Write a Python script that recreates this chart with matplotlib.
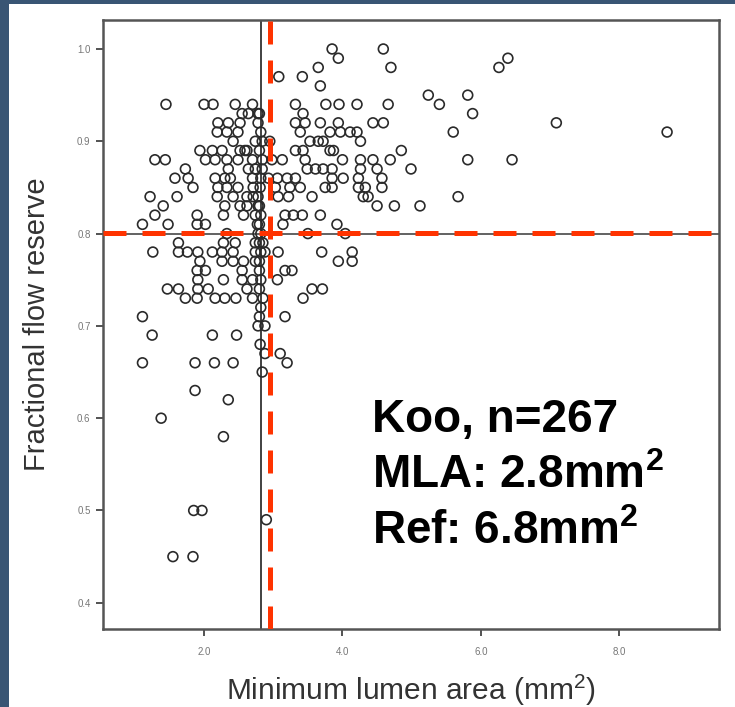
import matplotlib
matplotlib.use("Agg")
import matplotlib.pyplot as plt
from matplotlib.patches import Rectangle

plt.rcParams['font.family'] = ['Liberation Sans', 'DejaVu Sans']
plt.rcParams['mathtext.fontset'] = 'custom'
plt.rcParams['mathtext.rm'] = 'Liberation Sans'
plt.rcParams['mathtext.bf'] = 'Liberation Sans:bold'

# Minimum lumen area (mm^2) and FFR
mla = [
    3.85, 3.94, 4.59, 4.70, 3.65, 3.08, 3.42, 3.68, 5.24, 5.40, 5.81, 5.88, 5.60, 5.81, 5.67,
    6.26, 6.39, 7.09, 8.69, 6.45, 5.12, 4.75, 4.50,
    1.45, 2.00, 2.13, 2.45, 2.70, 3.32, 3.76, 3.95, 4.21, 4.66,
    2.55, 2.64, 2.78, 3.43,
    2.20, 2.35, 2.52, 2.78, 3.32, 3.46, 3.68, 3.94, 4.44, 4.59,
    2.19, 2.33, 2.49, 3.39, 3.82, 3.97, 4.11, 4.21,
    2.42, 2.74, 2.84, 2.95, 3.53, 3.65, 3.72, 4.26,
    1.94, 2.12, 2.26, 2.52, 2.59, 2.62, 3.32, 3.43, 3.82, 3.87, 4.85,
    1.29, 1.44, 2.02, 2.16, 2.33, 2.49, 2.70, 2.84, 2.98, 3.13, 3.46, 4.00, 4.26, 4.44, 4.69,
    1.73, 2.35, 2.64, 2.74, 2.84, 3.49, 3.61, 3.72, 3.85, 4.26, 4.50, 4.99,
    1.58, 1.77, 2.16, 2.30, 2.38, 2.70, 2.93, 3.06, 3.20, 3.32, 3.85, 4.01, 4.23, 4.57,
    1.84, 2.20, 2.33, 2.49, 2.71, 2.81, 3.03, 3.24, 3.39, 3.75, 3.85, 4.23, 4.33, 4.57,
    1.22, 1.61, 2.19, 2.42, 2.62, 2.71, 2.78, 3.07, 3.22, 3.56, 4.30, 4.37,
    1.41, 2.30, 2.52, 2.62, 2.78,
    1.29, 1.90, 2.28, 2.57, 2.74, 3.17, 3.29, 3.42, 3.68,
    1.11, 1.48, 1.90, 2.02, 2.77, 3.14, 3.92,
    2.33, 3.50, 4.04,
    1.63, 2.28, 2.45, 2.74, 2.85,
    1.26, 1.63, 1.76, 1.91, 2.12, 2.26, 2.42, 2.74, 2.88, 3.07, 3.70, 4.14,
    1.94, 2.26, 2.42, 2.57, 2.74, 3.94, 4.14,
    1.90, 2.02, 2.55, 3.17, 3.27,
    1.91, 2.28, 2.55, 2.70, 3.06,
    1.47, 1.63, 1.91, 2.06, 2.62, 3.56, 3.71,
    1.73, 1.90, 2.16, 2.30, 2.46, 2.70, 2.85, 3.43,
    1.11, 3.17,
    2.78, 2.88,
    1.25, 2.12, 2.47,
    2.81,
    2.88, 3.10,
    1.11, 1.87, 2.15, 2.42, 3.20,
    2.84, 1.87, 2.35, 1.38, 2.28,
    1.85, 1.97, 2.90, 1.55, 1.84,
    2.80, 2.82, 2.80, 2.82, 2.80, 2.82, 2.80, 2.82, 2.78, 2.80, 2.82, 2.80, 2.80, 2.82, 2.80, 2.82, 2.80,
]
ffr = [
    1.00, 0.99, 1.00, 0.98, 0.98, 0.97, 0.97, 0.96, 0.95, 0.94, 0.95, 0.93, 0.91, 0.88, 0.84,
    0.98, 0.99, 0.92, 0.91, 0.88, 0.83, 0.83, 0.83,
    0.94, 0.94, 0.94, 0.94, 0.94, 0.94, 0.94, 0.94, 0.94, 0.94,
    0.93, 0.93, 0.93, 0.93,
    0.92, 0.92, 0.92, 0.92, 0.92, 0.92, 0.92, 0.92, 0.92, 0.92,
    0.91, 0.91, 0.91, 0.91, 0.91, 0.91, 0.91, 0.91,
    0.90, 0.90, 0.90, 0.90, 0.90, 0.90, 0.90, 0.90,
    0.89, 0.89, 0.89, 0.89, 0.89, 0.89, 0.89, 0.89, 0.89, 0.89, 0.89,
    0.88, 0.88, 0.88, 0.88, 0.88, 0.88, 0.88, 0.88, 0.88, 0.88, 0.88, 0.88, 0.88, 0.88, 0.88,
    0.87, 0.87, 0.87, 0.87, 0.87, 0.87, 0.87, 0.87, 0.87, 0.87, 0.87, 0.87,
    0.86, 0.86, 0.86, 0.86, 0.86, 0.86, 0.86, 0.86, 0.86, 0.86, 0.86, 0.86, 0.86, 0.86,
    0.85, 0.85, 0.85, 0.85, 0.85, 0.85, 0.85, 0.85, 0.85, 0.85, 0.85, 0.85, 0.85, 0.85,
    0.84, 0.84, 0.84, 0.84, 0.84, 0.84, 0.84, 0.84, 0.84, 0.84, 0.84, 0.84,
    0.83, 0.83, 0.83, 0.83, 0.83,
    0.82, 0.82, 0.82, 0.82, 0.82, 0.82, 0.82, 0.82, 0.82,
    0.81, 0.81, 0.81, 0.81, 0.81, 0.81, 0.81,
    0.80, 0.80, 0.80,
    0.79, 0.79, 0.79, 0.79, 0.79,
    0.78, 0.78, 0.78, 0.78, 0.78, 0.78, 0.78, 0.78, 0.78, 0.78, 0.78, 0.78,
    0.77, 0.77, 0.77, 0.77, 0.77, 0.77, 0.77,
    0.76, 0.76, 0.76, 0.76, 0.76,
    0.75, 0.75, 0.75, 0.75, 0.75,
    0.74, 0.74, 0.74, 0.74, 0.74, 0.74, 0.74,
    0.73, 0.73, 0.73, 0.73, 0.73, 0.73, 0.73, 0.73,
    0.71, 0.71,
    0.70, 0.70,
    0.69, 0.69, 0.69,
    0.68,
    0.67, 0.67,
    0.66, 0.66, 0.66, 0.66, 0.66,
    0.65, 0.63, 0.62, 0.60, 0.58,
    0.50, 0.50, 0.49, 0.45, 0.45,
    0.93, 0.91, 0.89, 0.86, 0.83, 0.82, 0.81, 0.80, 0.80, 0.79, 0.78, 0.77, 0.76, 0.75, 0.74, 0.72, 0.71,
]

x_ticks = [2.0, 4.0, 6.0, 8.0]
x_tick_labels = ["2.0", "4.0", "6.0", "8.0"]
y_ticks = [0.4, 0.5, 0.6, 0.7, 0.8, 0.9, 1.0]
y_tick_labels = ["0.4", "0.5", "0.6", "0.7", "0.8", "0.9", "1.0"]

mla_fit = 2.83      # solid black reference line
ffr_cut = 0.80
mla_dashed = 2.95   # red dashed overlay
ffr_dashed = 0.801

annot = ["Koo, n=267", r"MLA: 2.8mm$^{\mathbf{2}}$", r"Ref: 6.8mm$^{\mathbf{2}}$"]

fig = plt.figure(figsize=(7.35, 7.07), dpi=100)
fig.patch.set_facecolor('white')
# dark frame of the slide
fig.patches.append(Rectangle((0, 0), 9/735, 1, transform=fig.transFigure,
                             facecolor='#395574', edgecolor='none', zorder=0))
fig.patches.append(Rectangle((0, 1 - 4/707), 1, 4/707, transform=fig.transFigure,
                             facecolor='#395574', edgecolor='none', zorder=0))

ax = fig.add_axes([103/735, 1 - 629/707, (719 - 103)/735, (629 - 20)/707])
ax.set_xlim(0.54, 9.44)
ax.set_ylim(0.3716, 1.0314)

ax.scatter(mla, ffr, s=50, facecolors='none', edgecolors='#2a2a2a', linewidths=1.2, zorder=3)

ax.axvline(mla_fit, color='#333333', lw=1.3, zorder=2)
ax.axhline(ffr_cut, color='#555555', lw=1.3, zorder=2)
ax.axvline(mla_dashed, color='#ff3300', lw=3.6, dashes=(4.6, 3.2), zorder=5)
ax.axhline(ffr_dashed, color='#ff3300', lw=3.6, dashes=(4.6, 3.2), zorder=5)

ax.set_xticks(x_ticks)
ax.set_xticklabels(x_tick_labels)
ax.set_yticks(y_ticks)
ax.set_yticklabels(y_tick_labels)
ax.tick_params(axis='both', direction='out', length=5, width=1.3, color='#444444',
               labelsize=7, labelcolor='#777777', pad=4)
ax.tick_params(axis='x', pad=8)
for s in ax.spines.values():
    s.set_color('#555555')
    s.set_linewidth(1.8)

ax.set_xlabel(r"Minimum lumen area (mm$^{2}$)", fontsize=21.5, color='#333333', labelpad=11)
ax.set_ylabel("Fractional flow reserve", fontsize=21, color='#333333', labelpad=19)

baselines = [432, 488, 544]
for t, b in zip(annot, baselines):
    fig.text(372/735, 1 - b/707, t, fontsize=33, fontweight='bold',
             color='black', ha='left', va='baseline')

fig.savefig("out.png", dpi=100)
